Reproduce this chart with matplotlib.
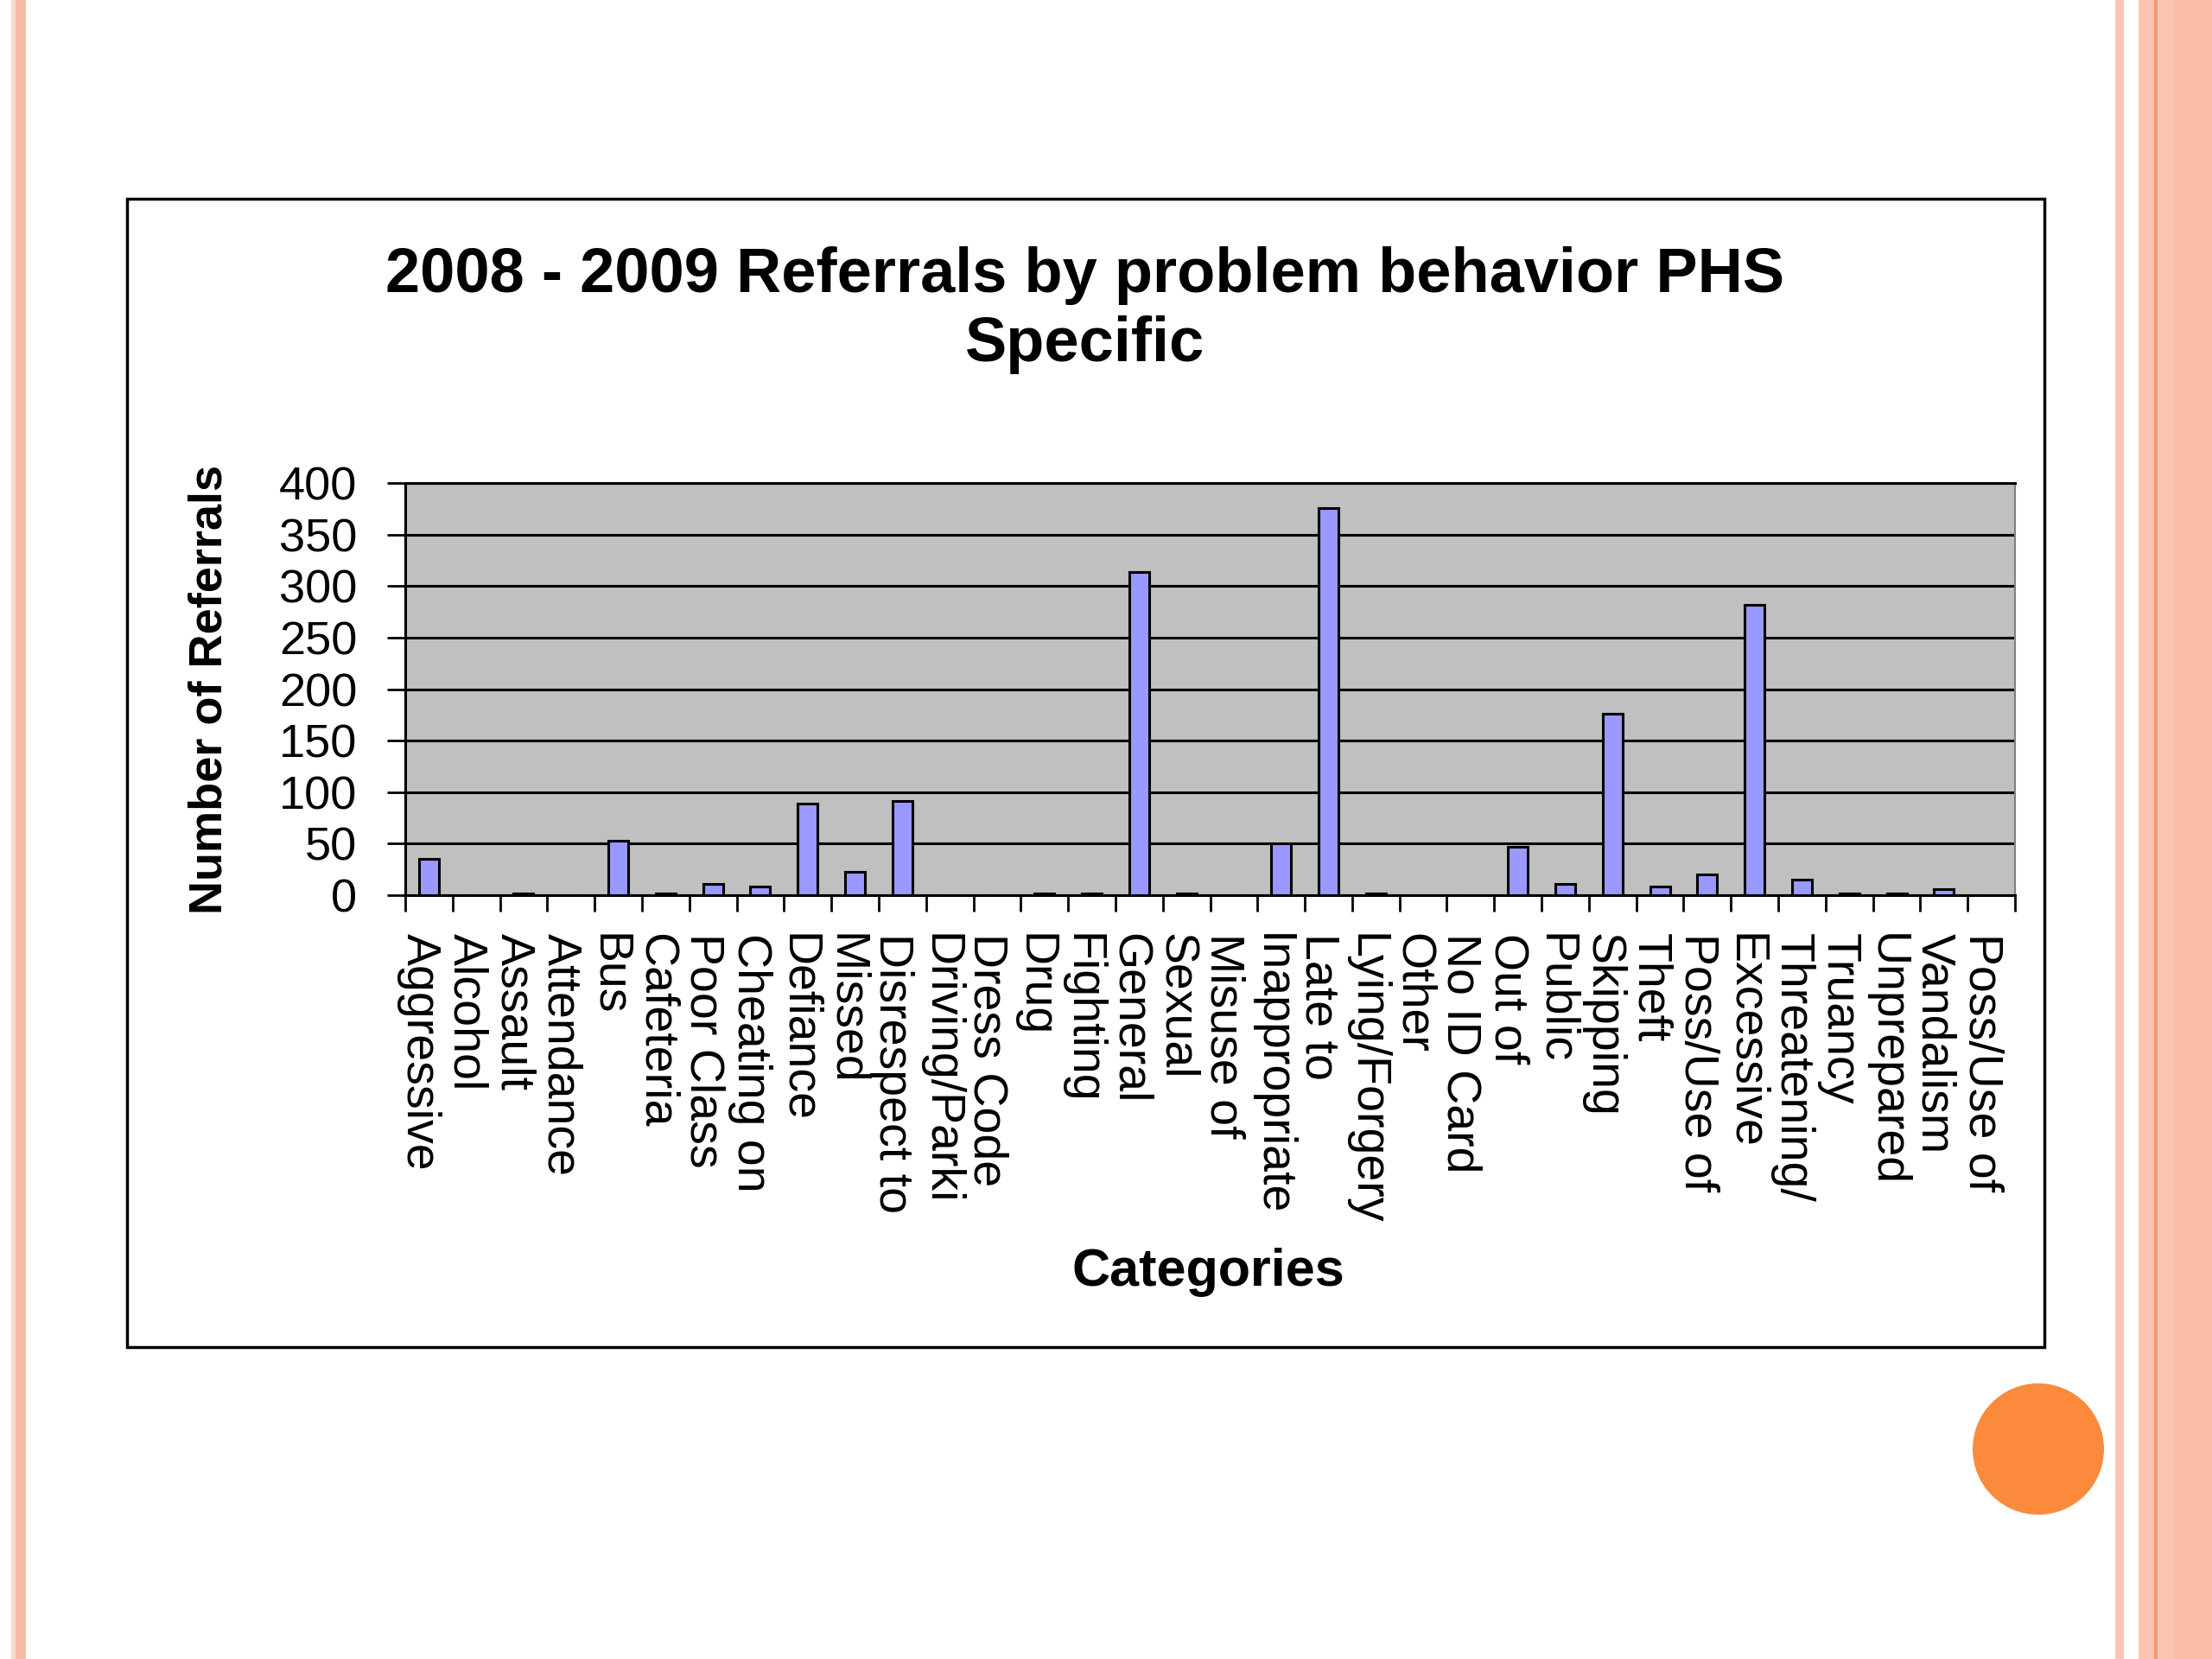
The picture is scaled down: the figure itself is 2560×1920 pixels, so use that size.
import matplotlib
matplotlib.use("Agg")
import matplotlib.pyplot as plt
import matplotlib.transforms as mtransforms
import numpy as np
from matplotlib.patches import Rectangle, Ellipse

plt.rcParams["font.family"] = ["Liberation Sans", "DejaVu Sans"]

categories = [
    "Aggressive", "Alcohol", "Assault", "Attendance", "Bus", "Cafeteria",
    "Poor Class", "Cheating on", "Defiance", "Missed", "Disrespect to",
    "Driving/Parki", "Dress Code", "Drug", "Fighting", "General", "Sexual",
    "Misuse of", "Inappropriate", "Late to", "Lying/Forgery", "Other",
    "No ID Card", "Out of", "Public", "Skipping", "Theft", "Poss/Use of",
    "Excessive", "Threatening/", "Truancy", "Unprepared", "Vandalism",
    "Poss/Use of",
]
referrals = [
    35, 0, 2, 0, 53, 2,
    11, 8, 89, 23, 91,
    0, 0, 2, 2, 314, 2,
    0, 50, 376, 2, 0,
    0, 47, 11, 176, 8, 20,
    282, 15, 2, 2, 6,
    0,
]
y_ticks = [0, 50, 100, 150, 200, 250, 300, 350, 400]

W, H = 2560, 1920
fig = plt.figure(figsize=(W / 100, H / 100), dpi=100)
fig.patch.set_facecolor("white")

# slide decoration
for x0, x1, c in [(13, 18, "#fcd9ce"), (18, 30, "#f9bba6"),
                  (2448, 2458, "#f8c6b6"), (2475, 2560, "#fac4b0"),
                  (2517, 2560, "#f9bca5"), (2493, 2497, "#f59a72")]:
    fig.add_artist(Rectangle((x0 / W, 0), (x1 - x0) / W, 1,
                             transform=fig.transFigure, color=c, lw=0, zorder=0))
fig.add_artist(Ellipse((2359 / W, 1 - 1677 / H), 2 * 76 / W, 2 * 76 / H,
                       transform=fig.transFigure, color="#fb8a3c", lw=0, zorder=1))

# chart frame
fig.add_artist(Rectangle((147 / W, 1 - 1559 / H), (2366 - 147) / W, (1559 - 230) / H,
                         transform=fig.transFigure, facecolor="white",
                         edgecolor="black", lw=2.5, zorder=1))

ax = fig.add_axes([469 / W, 1 - 1036 / H, (2332 - 469) / W, (1036 - 559) / H])
ax.set_zorder(2)
ax.set_facecolor("#c0c0c0")

x = np.arange(len(categories))
ax.bar(x, referrals, width=0.42, color="#9999ff", edgecolor="black", linewidth=2.2, zorder=3)

ax.set_xlim(-0.5, len(categories) - 0.5)
ax.set_ylim(0, 400)
ax.set_yticks(y_ticks)
ax.set_yticklabels([str(v) for v in y_ticks], fontsize=39)
ax.yaxis.grid(True, color="black", linewidth=2.2, zorder=1)
ax.set_axisbelow(True)
ax.tick_params(axis="y", direction="out", length=15, width=2, pad=25)

# ticks between categories, labels at centres
ax.set_xticks(np.arange(len(categories) + 1) - 0.5)
ax.set_xticklabels([])
ax.tick_params(axis="x", which="major", direction="out", length=14, width=2)
ax.set_xticks(x, minor=True)
ax.set_xticklabels(categories, minor=True, rotation=-90, fontsize=40, va="top", ha="center")
ax.tick_params(axis="x", which="minor", length=0, pad=32)
shift = mtransforms.ScaledTranslation(-0.12, 0, fig.dpi_scale_trans)
for lbl in ax.get_xticklabels(minor=True):
    lbl.set_transform(lbl.get_transform() + shift)

for side in ["left", "bottom", "top"]:
    ax.spines[side].set_color("black")
    ax.spines[side].set_linewidth(2.2)
ax.spines["right"].set_color("#808080")
ax.spines["right"].set_linewidth(1.5)

ax.set_ylabel("Number of Referrals", fontsize=39, fontweight="bold", va="center")
ax.yaxis.set_label_coords(-0.1218, 0.5)
ax.set_xlabel("Categories", fontsize=44, fontweight="bold")
ax.xaxis.set_label_coords(0.4987, -0.916)
ax.xaxis.label.set_va("center")

fig.text(1256 / W, 1 - 359 / H, "2008 - 2009 Referrals by problem behavior PHS\nSpecific",
         ha="center", va="center", fontsize=52, fontweight="bold", linespacing=1.22)

fig.savefig("out.png", dpi=100)
